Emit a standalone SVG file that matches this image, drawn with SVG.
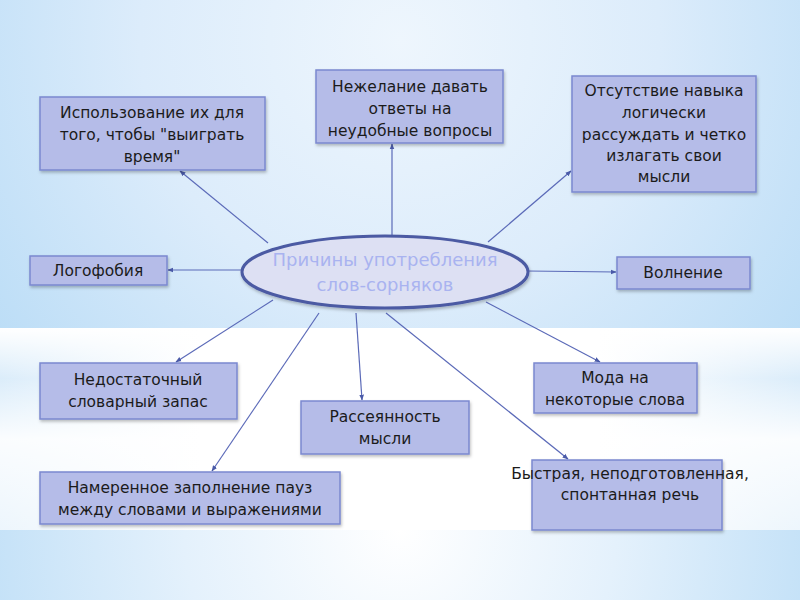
<svg xmlns="http://www.w3.org/2000/svg" width="800" height="600" viewBox="0 0 800 600">
<defs>
<radialGradient id="bgTop" cx="400" cy="40" r="520" gradientUnits="userSpaceOnUse">
<stop offset="0" stop-color="#eef6fd"/>
<stop offset="0.5" stop-color="#dcecfb"/>
<stop offset="1" stop-color="#b9dcf6"/>
</radialGradient>
<radialGradient id="bgBot" cx="400" cy="530" r="480" gradientUnits="userSpaceOnUse">
<stop offset="0" stop-color="#ffffff"/>
<stop offset="0.45" stop-color="#e4f1fc"/>
<stop offset="1" stop-color="#b9dcf6"/>
</radialGradient>
<linearGradient id="band" x1="0" y1="0" x2="1" y2="0">
<stop offset="0" stop-color="#d2e8f9"/>
<stop offset="0.25" stop-color="#ffffff"/>
<stop offset="0.75" stop-color="#ffffff"/>
<stop offset="1" stop-color="#d2e8f9"/>
</linearGradient>
<linearGradient id="bandFade" x1="0" y1="0" x2="0" y2="1">
<stop offset="0" stop-color="#ffffff" stop-opacity="1"/>
<stop offset="0.25" stop-color="#ffffff" stop-opacity="0.2"/>
<stop offset="0.55" stop-color="#ffffff" stop-opacity="0.9"/>
<stop offset="1" stop-color="#ffffff" stop-opacity="0.6"/>
</linearGradient>
<filter id="sh" x="-10%" y="-10%" width="120%" height="130%">
<feDropShadow dx="1" dy="2" stdDeviation="1.5" flood-color="#000" flood-opacity="0.25"/>
</filter>
<marker id="arr" viewBox="0 0 10 10" refX="9" refY="5" markerWidth="5" markerHeight="5" orient="auto">
<path d="M0,1 L10,5 L0,9 z" fill="#4a5aa8"/>
</marker>
<style>
.box{fill:#b5bce8;stroke:#7b88cf;stroke-width:1.5;filter:url(#sh)}
.t{font-family:"DejaVu Sans","Noto Sans",sans-serif;font-size:15.5px;fill:#1b1b1b;text-anchor:middle}
.c{stroke:#5b6ab8;stroke-width:1.2;fill:none;marker-end:url(#arr)}
.ct{font-family:"DejaVu Sans","Noto Sans",sans-serif;font-size:18px;fill:#a9b3f0;text-anchor:middle}
</style>
</defs>
<rect x="0" y="0" width="800" height="600" fill="url(#bgBot)"/>
<rect x="0" y="0" width="800" height="328" fill="url(#bgTop)"/>
<rect x="0" y="328" width="800" height="202" fill="url(#band)"/>
<rect x="0" y="328" width="800" height="202" fill="url(#bandFade)"/>

<g id="connectors">
<line class="c" x1="268" y1="243" x2="180" y2="171"/>
<line class="c" x1="392" y1="237" x2="392" y2="144"/>
<line class="c" x1="488" y1="242" x2="571" y2="171"/>
<line class="c" x1="243" y1="270" x2="168" y2="270"/>
<line class="c" x1="527" y1="271" x2="616" y2="272"/>
<line class="c" x1="273" y1="300" x2="176" y2="362"/>
<line class="c" x1="356" y1="313" x2="362" y2="400"/>
<line class="c" x1="486" y1="302" x2="600" y2="362"/>
<line class="c" x1="319" y1="313" x2="212" y2="471"/>
<line class="c" x1="386" y1="313" x2="568" y2="459"/>
</g>

<g id="center">
<ellipse cx="385" cy="272" rx="143" ry="36" fill="#dde0f3" stroke="#4b5aa3" stroke-width="3" filter="url(#sh)"/>
<text class="ct" x="385" y="266">Причины употребления</text>
<text class="ct" x="385" y="291">слов-сорняков</text>
</g>

<g id="n1">
<rect class="box" x="40" y="97" width="225" height="73"/>
<text class="t" x="152" y="118">Использование их для</text>
<text class="t" x="152" y="140">того, чтобы "выиграть</text>
<text class="t" x="152" y="162">время"</text>
</g>
<g id="n2">
<rect class="box" x="316" y="70" width="187" height="73"/>
<text class="t" x="410" y="92">Нежелание давать</text>
<text class="t" x="410" y="114">ответы на</text>
<text class="t" x="410" y="136">неудобные вопросы</text>
</g>
<g id="n3">
<rect class="box" x="572" y="76" width="184" height="116"/>
<text class="t" x="664" y="96">Отсутствие навыка</text>
<text class="t" x="664" y="118">логически</text>
<text class="t" x="664" y="140">рассуждать и четко</text>
<text class="t" x="664" y="161">излагать свои</text>
<text class="t" x="664" y="182">мысли</text>
</g>
<g id="n4">
<rect class="box" x="30" y="256" width="137" height="29"/>
<text class="t" x="98" y="276">Логофобия</text>
</g>
<g id="n5">
<rect class="box" x="617" y="257" width="133" height="32"/>
<text class="t" x="683" y="278">Волнение</text>
</g>
<g id="n6">
<rect class="box" x="40" y="363" width="197" height="56"/>
<text class="t" x="138" y="385">Недостаточный</text>
<text class="t" x="138" y="407">словарный запас</text>
</g>
<g id="n7">
<rect class="box" x="301" y="401" width="168" height="53"/>
<text class="t" x="385" y="422">Рассеянность</text>
<text class="t" x="385" y="444">мысли</text>
</g>
<g id="n8">
<rect class="box" x="534" y="363" width="163" height="50"/>
<text class="t" x="615" y="383">Мода на</text>
<text class="t" x="615" y="405">некоторые слова</text>
</g>
<g id="n9">
<rect class="box" x="40" y="472" width="300" height="52"/>
<text class="t" x="190" y="493">Намеренное заполнение пауз</text>
<text class="t" x="190" y="515">между словами и выражениями</text>
</g>
<g id="n10">
<rect class="box" x="532" y="460" width="190" height="70"/>
<text class="t" x="630" y="479">Быстрая, неподготовленная,</text>
<text class="t" x="630" y="500">спонтанная речь</text>
</g>
</svg>
